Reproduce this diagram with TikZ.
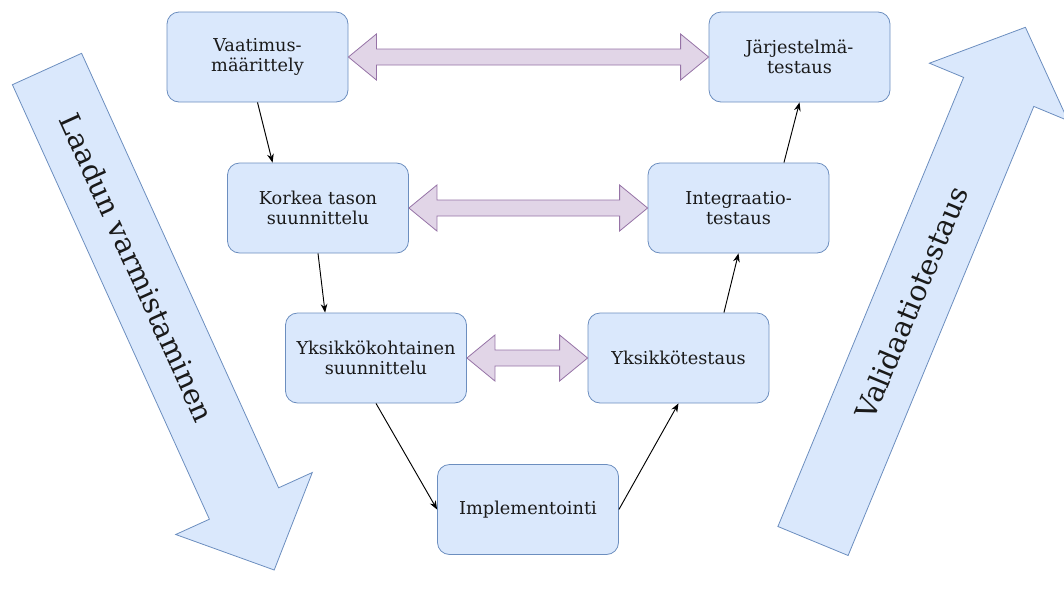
\documentclass[tikz,border=0pt]{standalone}
\usepackage{fontspec}
\setmainfont{DejaVu Serif}
\usetikzlibrary{arrows.meta, calc, positioning}

\definecolor{boxfill}{HTML}{DAE8FC}
\definecolor{boxline}{HTML}{6C8EBF}
\definecolor{purpfill}{HTML}{E1D5E7}
\definecolor{purpline}{HTML}{9673A6}
\definecolor{textcol}{HTML}{1A1A1A}

\begin{document}
\begin{tikzpicture}[x=0.75pt, y=-0.75pt, >={Stealth[length=6.5pt, width=5pt]},
  box/.style={draw=boxline, fill=boxfill, rounded corners=9pt, line width=0.6pt,
    minimum width=135.75pt, minimum height=67.5pt, align=center, text=textcol,
    font=\fontsize{13.3}{15}\selectfont},
  flow/.style={->, line width=0.7pt},
  biarrow/.style={draw=purpline, fill=purpfill, line width=0.6pt},
  bigarrow/.style={draw=boxline, fill=boxfill, line width=0.6pt},
  bigtext/.style={text=textcol, font=\fontsize{21.5}{24}\selectfont}]

		\useasboundingbox (0,0) rectangle (1064,611);

		% big arrows at the sides
		\draw[bigarrow] (12.4,84.7) -- (81.6,53.3) -- (278.6,487.8) -- (312.3,472.5)
			-- (274.2,570) -- (175.7,534.5) -- (209.4,519.2) -- cycle;
		\draw[bigarrow] (777.9,526.5) -- (963.6,77.4) -- (929.4,63.2) -- (1025.4,27.3)
			-- (1068,120.6) -- (1033.8,106.4) -- (848.1,555.5) -- cycle;
		\node[bigtext, rotate=-65.6] (laadun) at (137,267.6) {Laadun varmistaminen};
		\node[bigtext, rotate=67.5] (valid) at (911.6,302.6) {Validaatiotestaus};

		% the V
		\node[box] (vaat) at (257.5,57) {Vaatimus-\\määrittely};
		\node[box] (jarj) at (799.5,57) {Järjestelmä-\\testaus};
		\node[box] (kork) at (318,208) {Korkea tason\\suunnittelu};
		\node[box] (integ) at (738.5,208) {Integraatio-\\testaus};
		\node[box] (yksk) at (376,358) {Yksikkökohtainen\\suunnittelu};
		\node[box] (yksit) at (678.5,358) {Yksikkötestaus};
		\node[box] (impl) at (528,509.5) {Implementointi};

		\draw[flow] (vaat.south) -- ($(kork.north west)!0.25!(kork.north east)$);
		\draw[flow] (kork.south) -- ($(yksk.north west)!0.22!(yksk.north east)$);
		\draw[flow] (yksk.south) -- (impl.west);
		\draw[flow] (impl.east) -- (yksit.south);
		\draw[flow] ($(yksit.north west)!0.75!(yksit.north east)$) -- (integ.south);
		\draw[flow] ($(integ.north west)!0.75!(integ.north east)$) -- (jarj.south);

		% double arrows between the levels
		\draw[biarrow] (vaat.east) -- ++(28,-23) -- ++(0,15) -- ($(jarj.west)+(-28,-8)$)
			-- ++(0,-15) -- (jarj.west) -- ++(-28,23) -- ++(0,-15)
			-- ($(vaat.east)+(28,8)$) -- ++(0,15) -- cycle;
		\draw[biarrow] (kork.east) -- ++(28,-23) -- ++(0,15) -- ($(integ.west)+(-28,-8)$)
			-- ++(0,-15) -- (integ.west) -- ++(-28,23) -- ++(0,-15)
			-- ($(kork.east)+(28,8)$) -- ++(0,15) -- cycle;
		\draw[biarrow] (yksk.east) -- ++(28,-23) -- ++(0,15) -- ($(yksit.west)+(-28,-8)$)
			-- ++(0,-15) -- (yksit.west) -- ++(-28,23) -- ++(0,-15)
			-- ($(yksk.east)+(28,8)$) -- ++(0,15) -- cycle;

\end{tikzpicture}
\end{document}
